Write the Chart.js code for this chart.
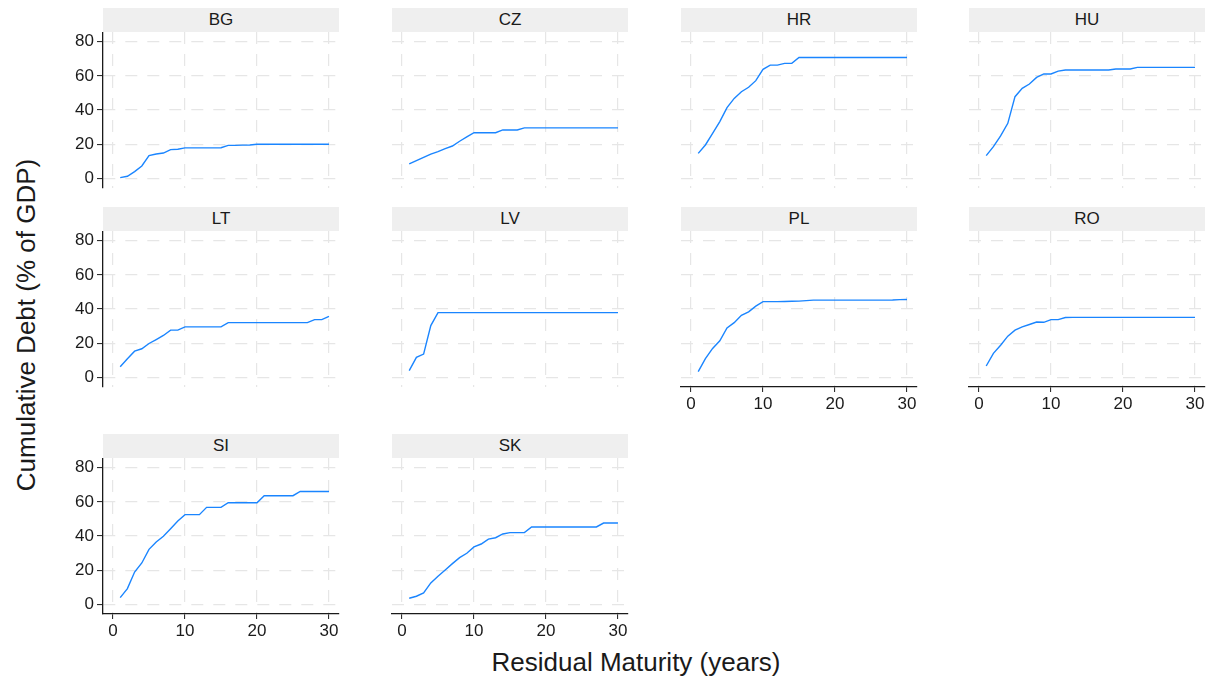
<!DOCTYPE html>
<html>
<head>
<meta charset="utf-8">
<script src="https://cdn.jsdelivr.net/npm/chart.js@4.4.1/dist/chart.umd.min.js"></script>
<style>
  body { margin: 0; background: #fff; font-family: "Liberation Sans", Arial, sans-serif; }
  #fig { position: relative; width: 1211px; height: 681px; overflow: hidden; }
  .panel { position: absolute; }
  .strip { position: absolute; background: #efefef; color: #1a1a1a; font-size: 17px;
           text-align: center; height: 24px; line-height: 24px; }
  .ytitle { position: absolute; left: 26px; top: 325px; font-size: 26px; color: #1a1a1a;
            transform: translate(-50%, -50%) rotate(-90deg); white-space: nowrap; }
  .xtitle { position: absolute; left: 636px; top: 662px; font-size: 26px; color: #1a1a1a;
            transform: translate(-50%, -50%); white-space: nowrap; }
</style>
</head>
<body>
<div id="fig">
  <div class="ytitle">Cumulative Debt (% of GDP)</div>
  <div class="xtitle">Residual Maturity (years)</div>
</div>
<script>
// residual maturity in years
const years = [1, 2, 3, 4, 5, 6, 7, 8, 9, 10, 11, 12, 13, 14, 15,
               16, 17, 18, 19, 20, 21, 22, 23, 24, 25, 26, 27, 28, 29, 30];

const countries = ['BG', 'CZ', 'HR', 'HU', 'LT', 'LV', 'PL', 'RO', 'SI', 'SK'];

// cumulative debt maturing within n years, % of GDP
const debtBG = [0.4, 1.2, 3.9, 7.2, 13.3, 14.2, 14.8, 16.8, 17.0, 17.8,
                17.8, 17.8, 17.8, 17.8, 17.9, 19.3, 19.3, 19.4, 19.5, 19.9,
                19.9, 19.9, 19.9, 19.9, 19.9, 19.9, 19.9, 19.9, 19.9, 19.9];
const debtCZ = [8.4, 10.3, 12.3, 14.2, 15.6, 17.4, 18.9, 21.7, 24.2, 26.7,
                26.7, 26.7, 26.7, 28.3, 28.3, 28.3, 29.5, 29.5, 29.5, 29.5,
                29.5, 29.5, 29.5, 29.5, 29.5, 29.5, 29.5, 29.5, 29.5, 29.5];
const debtHR = [14.6, 19.5, 26.3, 33.2, 41.4, 46.8, 50.7, 53.3, 57.2, 63.8,
                66.3, 66.3, 67.3, 67.3, 70.8, 70.8, 70.8, 70.8, 70.8, 70.8,
                70.8, 70.8, 70.8, 70.8, 70.8, 70.8, 70.8, 70.8, 70.8, 70.8];
const debtHU = [13.3, 18.5, 24.8, 32.2, 47.8, 52.7, 55.2, 59.1, 61.1, 61.1,
                62.8, 63.4, 63.4, 63.4, 63.4, 63.4, 63.4, 63.4, 64.0, 64.0,
                64.0, 65.0, 65.0, 65.0, 65.0, 65.0, 65.0, 65.0, 65.0, 65.0];
const debtLT = [6.2, 10.9, 15.3, 16.7, 19.8, 22.1, 24.5, 27.6, 27.6, 29.5,
                29.5, 29.5, 29.5, 29.5, 29.5, 32.0, 32.0, 32.0, 32.0, 32.0,
                32.0, 32.0, 32.0, 32.0, 32.0, 32.0, 32.0, 33.8, 33.8, 35.7];
const debtLV = [3.9, 11.7, 13.6, 30.3, 37.9, 37.9, 37.9, 37.9, 37.9, 37.9,
                37.9, 37.9, 37.9, 37.9, 37.9, 37.9, 37.9, 37.9, 37.9, 37.9,
                37.9, 37.9, 37.9, 37.9, 37.9, 37.9, 37.9, 37.9, 37.9, 37.9];
const debtPL = [3.3, 10.9, 16.9, 21.4, 28.9, 32.0, 36.3, 38.3, 41.7, 44.3,
                44.3, 44.3, 44.4, 44.5, 44.6, 44.9, 45.2, 45.2, 45.2, 45.2,
                45.2, 45.2, 45.2, 45.2, 45.2, 45.2, 45.2, 45.3, 45.5, 45.6];
const debtRO = [6.6, 14.0, 18.8, 24.1, 27.6, 29.5, 30.9, 32.4, 32.2, 33.8,
                33.8, 35.0, 35.1, 35.1, 35.1, 35.1, 35.1, 35.1, 35.1, 35.1,
                35.1, 35.1, 35.1, 35.1, 35.1, 35.1, 35.1, 35.1, 35.1, 35.1];
const debtSI = [3.9, 9.2, 18.9, 24.2, 32.2, 36.5, 39.8, 44.3, 48.8, 52.5,
                52.5, 52.5, 56.8, 56.8, 56.8, 59.5, 59.5, 59.5, 59.5, 59.5,
                63.6, 63.6, 63.6, 63.6, 63.6, 66.1, 66.1, 66.1, 66.1, 66.1];
const debtSK = [3.5, 4.7, 6.6, 12.5, 16.4, 20.1, 23.8, 27.3, 29.9, 33.6,
                35.3, 38.2, 39.0, 41.2, 42.0, 42.0, 42.0, 45.3, 45.3, 45.3,
                45.3, 45.3, 45.3, 45.3, 45.3, 45.3, 45.3, 47.6, 47.6, 47.6];

const series = [debtBG, debtCZ, debtHR, debtHU, debtLT, debtLV, debtPL, debtRO, debtSI, debtSK];

const xTicks = [0, 10, 20, 30];
const yTicks = [0, 20, 40, 60, 80];

// panel grid: 4 columns, 3 rows
const colLeft = [103, 392, 681, 969];
const rowTop = [32, 231, 458];
const plotW = 236, plotH = 156, stripH = 24;
const axisW = 60, axisH = 30;

const lineBlue = '#1a85ff';
const gridGrey = '#e6e6e6';
const axisInk = '#1a1a1a';
const tickFont = { family: '"Liberation Sans", Arial, sans-serif', size: 17 };

const fig = document.getElementById('fig');

countries.forEach((code, i) => {
  const col = i % 4, row = Math.floor(i / 4);
  const showY = col === 0;
  // x axis sits under the last panel of each column
  const showX = i + 4 >= countries.length;

  const strip = document.createElement('div');
  strip.className = 'strip';
  strip.style.left = colLeft[col] + 'px';
  strip.style.top = (rowTop[row] - stripH) + 'px';
  strip.style.width = plotW + 'px';
  strip.textContent = code;
  fig.appendChild(strip);

  const canvas = document.createElement('canvas');
  canvas.className = 'panel';
  canvas.width = axisW + plotW + 6;
  canvas.height = plotH + axisH;
  canvas.style.left = (colLeft[col] - axisW) + 'px';
  canvas.style.top = rowTop[row] + 'px';
  fig.appendChild(canvas);

  new Chart(canvas, {
    type: 'line',
    data: {
      labels: years,
      datasets: [{
        label: code,
        data: years.map((y, k) => ({ x: y, y: series[i][k] })),
        borderColor: lineBlue,
        borderWidth: 1.4,
        pointRadius: 0,
        tension: 0,
        fill: false
      }]
    },
    options: {
      responsive: false,
      animation: false,
      devicePixelRatio: 1,
      layout: { padding: { left: 0, right: 6, top: 0, bottom: 0 } },
      plugins: { legend: { display: false }, tooltip: { enabled: false } },
      scales: {
        x: {
          type: 'linear',
          min: -1.39,
          max: 31.39,
          afterBuildTicks: s => { s.ticks = xTicks.map(v => ({ value: v })); },
          afterFit: s => { s.height = axisH; s.paddingLeft = 0; s.paddingRight = 0; },
          grid: { color: gridGrey, lineWidth: 1.2, drawTicks: showX, tickLength: 5,
                  tickColor: axisInk, tickWidth: 1 },
          border: { display: showX, color: axisInk, width: 1.3, dash: [12, 10] },
          ticks: { display: showX, color: axisInk, font: tickFont, padding: 2,
                   maxRotation: 0, autoSkip: false }
        },
        y: {
          min: -5.7,
          max: 85.7,
          afterBuildTicks: s => { s.ticks = yTicks.map(v => ({ value: v })); },
          afterFit: s => { s.width = axisW; s.paddingTop = 0; s.paddingBottom = 0; },
          grid: { color: gridGrey, lineWidth: 1.2, drawTicks: showY, tickLength: 6,
                  tickColor: axisInk, tickWidth: 1 },
          border: { display: showY, color: axisInk, width: 1.3, dash: [12, 10] },
          ticks: { display: showY, color: axisInk, font: tickFont, padding: 3 }
        }
      }
    }
  });
});
</script>
</body>
</html>
